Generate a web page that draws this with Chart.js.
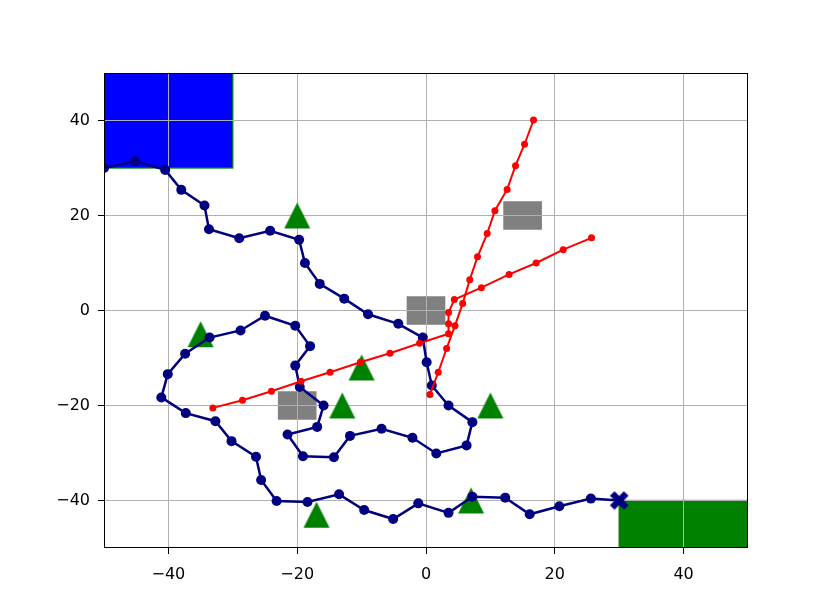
<!DOCTYPE html>
<html><head><meta charset="utf-8">
<script src="https://cdn.jsdelivr.net/npm/chart.js@4/dist/chart.umd.min.js"></script>
<style>html,body{margin:0;padding:0;background:#fff}canvas{display:block}</style>
</head><body>
<canvas id="c" width="830" height="616"></canvas>
<script>
// ---- data ----
const pathX = [-50, -45.2, -40.5, -38.0, -34.4, -33.7, -29.0, -24.2, -19.7, -18.8, -16.5, -12.7, -9.0, -4.3, -0.5, 0.1, 0.9, 3.5, 7.2, 6.3, 1.6, -2.1, -6.9, -11.8, -14.3, -19.1, -21.5, -16.9, -15.9, -19.6, -20.3, -18.0, -20.3, -25.0, -28.8, -33.6, -37.4, -40.1, -41.1, -37.3, -32.7, -30.2, -26.4, -25.6, -23.2, -18.4, -13.5, -9.6, -5.1, -1.2, 3.5, 7.2, 12.3, 16.1, 20.7, 25.6, 30.0];
const pathY = [30, 31.4, 29.6, 25.4, 22.1, 17.1, 15.2, 16.8, 14.9, 10.0, 5.6, 2.5, -0.8, -2.8, -5.7, -10.9, -15.8, -20.0, -23.5, -28.4, -30.1, -26.8, -24.9, -26.4, -30.9, -30.7, -26.1, -24.5, -20.0, -16.1, -11.6, -7.5, -3.2, -1.1, -4.2, -5.7, -9.1, -13.4, -18.3, -21.6, -23.3, -27.5, -30.8, -35.7, -40.1, -40.3, -38.7, -42.0, -43.9, -40.6, -42.6, -39.2, -39.4, -42.9, -41.2, -39.6, -40.0];
const redAX = [-33.1, -28.5, -24.0, -19.4, -14.9, -10.2, -5.6, -1.0, 3.5, 3.5, 3.5, 4.4, 8.6, 12.9, 17.1, 21.3, 25.7];
const redAY = [-20.5, -18.9, -17.0, -14.9, -13.0, -10.9, -9.0, -6.9, -4.9, -2.8, -0.4, 2.3, 4.8, 7.6, 10.0, 12.8, 15.3];
const redBX = [0.6, 1.9, 3.2, 4.5, 5.7, 6.8, 8.0, 9.5, 10.7, 12.6, 13.9, 15.3, 16.7];
const redBY = [-17.7, -13.0, -8.0, -3.2, 1.5, 6.5, 11.3, 16.2, 21.0, 25.5, 30.5, 35.0, 40.1];
const triX = [-20, -35, -10, -13, 10, 7, -17];
const triY = [20, -5, -12, -20, -20, -40, -43];
const obsX0 = [-3, 12, -23];
const obsX1 = [3, 18, -17];
const obsY0 = [-3, 17, -23];
const obsY1 = [3, 23, -17];
const startX = [-50, -30];
const startY = [30, 50];
const goalX = [30, 50];
const goalY = [-50, -40];
const xTicks = [-40, -20, 0, 20, 40];
const yTicks = [-40, -20, 0, 20, 40];

// ---- marker images ----
function triImg(){
  const c=document.createElement('canvas'); c.width=28; c.height=28;
  const g=c.getContext('2d'); g.fillStyle='#008000';
  g.beginPath(); g.moveTo(14,1); g.lineTo(1,27); g.lineTo(27,27); g.closePath(); g.fill();
  return c;
}
function xImg(){
  const c=document.createElement('canvas'); c.width=20; c.height=20;
  const g=c.getContext('2d'); g.strokeStyle='#000080'; g.lineWidth=6.5; g.lineCap='butt';
  g.beginPath(); g.moveTo(3,3); g.lineTo(17,17); g.moveTo(17,3); g.lineTo(3,17); g.stroke();
  return c;
}
const TRI = triImg(), XM = xImg();

const zip = (xs, ys) => xs.map((v,i)=>({x:v, y:ys[i]}));

const areasPlugin = {
  id:'areas',
  beforeDraw(chart){
    const {ctx, chartArea:a, scales:{x, y}} = chart;
    ctx.save();
    ctx.beginPath(); ctx.rect(a.left, a.top, a.right-a.left, a.bottom-a.top); ctx.clip();
    const box = (x0,x1,y0,y1,fill,edge)=>{
      const px0=x.getPixelForValue(x0), px1=x.getPixelForValue(x1);
      const py0=y.getPixelForValue(y1), py1=y.getPixelForValue(y0);
      ctx.fillStyle=fill; ctx.fillRect(px0,py0,px1-px0,py1-py0);
      if(edge){ctx.strokeStyle=edge; ctx.lineWidth=1.3; ctx.strokeRect(px0,py0,px1-px0,py1-py0);}
    };
    box(startX[0], startX[1], startY[0], startY[1], '#0000ff', '#008000');
    box(goalX[0], goalX[1], goalY[0], goalY[1], '#008000', '#008000');
    for(let i=0;i<obsX0.length;i++) box(obsX0[i], obsX1[i], obsY0[i], obsY1[i], '#808080', null);
    ctx.restore();
  }
};
const framePlugin = {
  id:'frame',
  afterDraw(chart){
    const {ctx, chartArea:a} = chart;
    ctx.save(); ctx.strokeStyle='#000'; ctx.lineWidth=1;
    ctx.strokeRect(Math.round(a.left)+0.5, Math.round(a.top)+0.5, Math.round(a.right-a.left)-1, Math.round(a.bottom-a.top)-1);
    ctx.restore();
  }
};

const fmt = v => (v<0 ? '\u2212'+Math.abs(v) : String(v));
function axis(ticks, isY){
  return {
    type:'linear', min:-50, max:50,
    afterBuildTicks: s => { s.ticks = ticks.map(v=>({value:v})); },
    afterFit: s => { if(isY) s.width = 104; else s.height = 68; },
    grid:{color:'#b0b0b0', lineWidth:1, drawTicks:true, tickLength:6, tickColor:'#000', tickWidth:1},
    border:{display:false},
    ticks:{color:'#000', padding: isY ? 8 : 11, font:{family:'DejaVu Sans', size:16}, callback: v => fmt(v), maxRotation:0, autoSkip:false}
  };
}

new Chart(document.getElementById('c'), {
  type:'scatter',
  data:{datasets:[
    {data: zip(triX, triY), pointStyle: TRI, pointRadius: 14, showLine:false, order:3},
    {data: zip(pathX, pathY), showLine:true, borderColor:'#000080', borderWidth:2.5,
     backgroundColor:'#000080', pointBackgroundColor:'#000080', pointBorderColor:'#000080',
     pointRadius:5, pointBorderWidth:0,
     pointStyle: pathX.map((v,i)=> i===pathX.length-1 ? XM : 'circle'), order:2},
    {data: zip(redAX, redAY), showLine:true, borderColor:'#ff0000', borderWidth:2,
     pointBackgroundColor:'#ff0000', pointBorderColor:'#ff0000', pointRadius:3.5, pointBorderWidth:0, order:1},
    {data: zip(redBX, redBY), showLine:true, borderColor:'#ff0000', borderWidth:2,
     pointBackgroundColor:'#ff0000', pointBorderColor:'#ff0000', pointRadius:3.5, pointBorderWidth:0, order:1}
  ]},
  options:{
    responsive:false, animation:false,
    layout:{padding:{top:73, right:82, left:0, bottom:0}},
    plugins:{legend:{display:false}, tooltip:{enabled:false}},
    scales:{x: axis(xTicks,false), y: axis(yTicks,true)}
  },
  plugins:[areasPlugin, framePlugin]
});
</script>
</body></html>
